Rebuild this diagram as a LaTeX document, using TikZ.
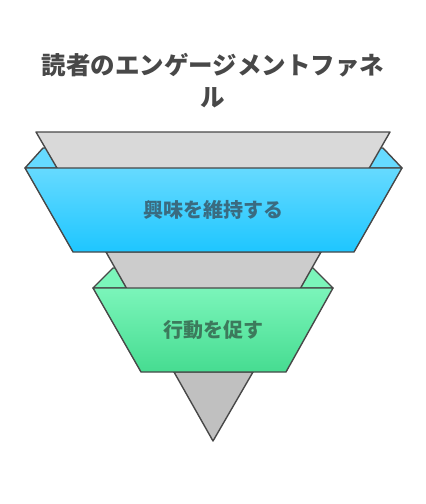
\documentclass[tikz,border=0pt]{standalone}
\usepackage{fontspec}
\newfontfamily\cjk{Noto Sans CJK JP}

\definecolor{edgegray}{HTML}{484848}
\definecolor{segA}{HTML}{D9D9D9}
\definecolor{segB}{HTML}{CCCCCC}
\definecolor{segC}{HTML}{C0C0C0}
\definecolor{blueTop}{HTML}{66DAFF}
\definecolor{blueBot}{HTML}{1EC6FF}
\definecolor{greenTop}{HTML}{7BF5BA}
\definecolor{greenBot}{HTML}{46DC91}
\definecolor{blueText}{HTML}{3A6B80}
\definecolor{greenText}{HTML}{3C7A5C}

\tikzset{
  seg/.style={draw=edgegray, line width=1.4pt, line join=round},
  label/.style={font=\cjk\bfseries\fontsize{20}{24}\selectfont}
}

\begin{document}
\begin{tikzpicture}[x=1pt, y=-1pt]
        \useasboundingbox (0,0) rectangle (426,504);

        \node[label, font=\cjk\bfseries\fontsize{24.5}{32}\selectfont, text=edgegray, align=center] (title) at (213, 81) {読者のエンゲージメントファネ\\ル};

        % back folds of the bands
        \draw[seg, fill=blueTop] (25,168) -- (43,148) -- (383,148) -- (402,168) -- cycle;
        \draw[seg, fill=greenTop] (93,288) -- (113,268) -- (313,268) -- (333,288) -- cycle;

        % funnel segments
        \draw[seg, fill=segA] (36,132) -- (390,132) -- (321,252) -- (106,252) -- cycle;
        \draw[seg, fill=segB] (106,252) -- (321,252) -- (253,372) -- (174,372) -- cycle;
        \draw[seg, fill=segC] (174,372) -- (253,372) -- (213,441) -- cycle;

        % front bands
        \draw[seg, top color=blueTop, bottom color=blueBot] (25,168) -- (402,168) -- (354,252) -- (73,252) -- cycle;
        \draw[seg, top color=greenTop, bottom color=greenBot] (93,288) -- (333,288) -- (286,372) -- (141,372) -- cycle;

        \node[label, text=blueText] (interest) at (213, 210) {興味を維持する};
        \node[label, text=greenText] (action) at (213, 330) {行動を促す};
    \end{tikzpicture}
\end{document}
